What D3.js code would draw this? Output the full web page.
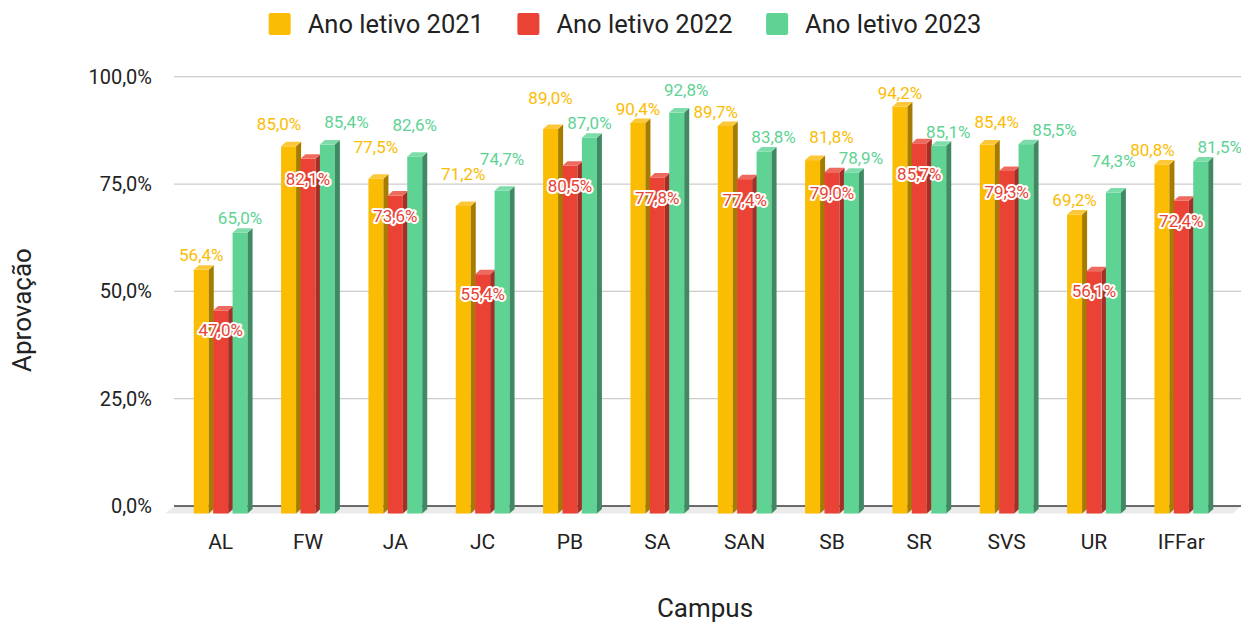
<!DOCTYPE html>
<html>
<head>
<meta charset="utf-8">
<script src="https://cdn.jsdelivr.net/npm/d3@7"></script>
<style>
  html, body { margin: 0; padding: 0; background: #fff; }
  svg { display: block; font-family: Roboto, "Noto Sans", sans-serif; }
</style>
</head>
<body>
<div id="container"></div>
<script>
// data
var campus = ["AL", "FW", "JA", "JC", "PB", "SA", "SAN", "SB", "SR", "SVS", "UR", "IFFar"];
var ano2021 = [56.4, 85.0, 77.5, 71.2, 89.0, 90.4, 89.7, 81.8, 94.2, 85.4, 69.2, 80.8];
var ano2022 = [47.0, 82.1, 73.6, 55.4, 80.5, 77.8, 77.4, 79.0, 85.7, 79.3, 56.1, 72.4];
var ano2023 = [65.0, 85.4, 82.6, 74.7, 87.0, 92.8, 83.8, 78.9, 85.1, 85.5, 74.3, 81.5];
var seriesNames = ["Ano letivo 2021", "Ano letivo 2022", "Ano letivo 2023"];
var yTicks = [0, 25, 50, 75, 100];

// label nudges (steps) so the value labels do not collide, like in the original
var lift2021 = [0, 1, 2, 2, 2, 0, 0, 1, 0, 1, 0, 0];
var side2021 = [0, -1, 0, 0, 0, 0, -1, 2, 0, 1, 0, -1];
var lift2022 = [0, 0, 0, 0, 0, 0, 0, 0, 1, 0, 0, 0];
var lift2023 = [0, 1, 2, 2, 0, 1, 0, 0, 0, 0, 2, 0];
var side2023 = [0, 2, 0, 0, 0, 1, 1, 1, 1, 3, 0, 2];

var w = 1241, h = 623;
var svg = d3.select("#container").append("svg")
    .attr("width", w).attr("height", h);

var colors = [
  {front: "#fbbc04", side: "#a67c00", top: "#fcc83a", label: "#fbbc04"},
  {front: "#ea4335", side: "#a42f26", top: "#ee6a5e", label: "#ea4335"},
  {front: "#5ed394", side: "#3f8a62", top: "#7edcab", label: "#5ed394"}
];

// x band per campus, y scale on the back wall, yF on the front plane
var x = d3.scaleBand().domain(campus).range([177, 1225]);
var y = d3.scaleLinear().domain([0, 100]).range([506, 76.7]);
var yF = d3.scaleLinear().domain([0, 100]).range([513.5, 81.5]);

var barW = 15, pitch = 19.4, depX = 5, depY = -4.5;

//gridlines
svg.append("g").selectAll("line")
  .data(yTicks.filter(function(d) { return d > 0; }))
  .enter().append("line")
    .attr("x1", 174).attr("x2", w)
    .attr("y1", function(d) { return y(d); })
    .attr("y2", function(d) { return y(d); })
    .attr("stroke", "#cccccc").attr("stroke-width", 1.3);

//floor
var xl = x.range()[0], xr = x.range()[1];
svg.append("path")
  .attr("d", "M" + (xl - 12) + "," + yF(0) + "L" + (xr + 8) + "," + yF(0) +
             "L" + w + "," + y(0) + "L" + (xl - 2) + "," + y(0) + "Z")
  .attr("fill", "#ebebeb");
svg.append("line")
  .attr("x1", xl - 3).attr("x2", w)
  .attr("y1", y(0)).attr("y2", y(0))
  .attr("stroke", "#3c3c3c").attr("stroke-width", 1.6);

//tick labels
svg.append("g").selectAll("text")
  .data(yTicks)
  .enter().append("text")
    .attr("x", 152)
    .attr("y", function(d) { return y(d); })
    .attr("dy", "0.35em")
    .attr("text-anchor", "end")
    .attr("font-size", 20)
    .attr("fill", "#222")
    .text(function(d) { return d.toFixed(1).replace(".", ",") + "%"; });

//bars
var allSeries = [ano2021, ano2022, ano2023];
function cx(i, s) { return x(campus[i]) + x.bandwidth() / 2 + (s - 1) * pitch; }

var bars = svg.append("g");
allSeries.forEach(function(vals, s) {
  var g = bars.append("g").selectAll("g").data(vals).enter().append("g");
  g.append("rect")
    .attr("x", function(d, i) { return cx(i, s) - barW / 2; })
    .attr("y", function(d) { return yF(d); })
    .attr("width", barW)
    .attr("height", function(d) { return yF(0) - yF(d); })
    .attr("fill", colors[s].front);
  g.append("path")
    .attr("d", function(d, i) {
      var r = cx(i, s) + barW / 2;
      return "M" + r + "," + yF(d) + "L" + (r + depX) + "," + (yF(d) + depY) +
             "L" + (r + depX) + "," + (yF(0) + depY) + "L" + r + "," + yF(0) + "Z";
    })
    .attr("fill", colors[s].side);
  g.append("path")
    .attr("d", function(d, i) {
      var l = cx(i, s) - barW / 2, r = l + barW;
      return "M" + l + "," + yF(d) + "L" + (l + depX) + "," + (yF(d) + depY) +
             "L" + (r + depX) + "," + (yF(d) + depY) + "L" + r + "," + yF(d) + "Z";
    })
    .attr("fill", colors[s].top);
});

//value labels
function fmt(v) { return v.toFixed(1).replace(".", ",") + "%"; }
var labels = svg.append("g").attr("font-size", 17);

labels.selectAll("text.l21").data(ano2021).enter().append("text")
  .attr("class", "l21")
  .attr("x", function(d, i) { return cx(i, 0) + 9.5 * side2021[i]; })
  .attr("y", function(d, i) { return y(d) - 9 - 8.5 * lift2021[i]; })
  .attr("dy", "0.35em").attr("text-anchor", "middle")
  .attr("fill", colors[0].label)
  .text(fmt);

labels.selectAll("text.l23").data(ano2023).enter().append("text")
  .attr("class", "l23")
  .attr("x", function(d, i) { return cx(i, 2) + 9.5 * side2023[i]; })
  .attr("y", function(d, i) { return y(d) - 9 - 8.5 * lift2023[i]; })
  .attr("dy", "0.35em").attr("text-anchor", "middle")
  .attr("fill", colors[2].label)
  .text(fmt);

labels.selectAll("text.l22").data(ano2022).enter().append("text")
  .attr("class", "l22")
  .attr("x", function(d, i) { return cx(i, 1); })
  .attr("y", function(d, i) { return y(d) + 26 + 10 * lift2022[i]; })
  .attr("dy", "0.35em").attr("text-anchor", "middle")
  .attr("fill", colors[1].label)
  .attr("stroke", "#fff").attr("stroke-width", 4)
  .attr("stroke-linejoin", "round")
  .attr("paint-order", "stroke")
  .text(fmt);

//category labels
svg.append("g").selectAll("text")
  .data(campus)
  .enter().append("text")
    .attr("x", function(d) { return x(d) + x.bandwidth() / 2; })
    .attr("y", 549)
    .attr("text-anchor", "middle")
    .attr("font-size", 21)
    .attr("fill", "#222")
    .text(function(d) { return d; });

//axis titles
svg.append("text")
  .attr("x", 705).attr("y", 617)
  .attr("text-anchor", "middle")
  .attr("font-size", 26)
  .attr("fill", "#222")
  .text("Campus");
svg.append("text")
  .attr("transform", "translate(31,310) rotate(-90)")
  .attr("text-anchor", "middle")
  .attr("font-size", 26)
  .attr("fill", "#222")
  .text("Aprovação");

//legend
var leg = svg.append("g");
var lx = 0;
seriesNames.forEach(function(name, s) {
  var item = leg.append("g").attr("transform", "translate(" + lx + ",0)");
  item.append("rect")
    .attr("x", 0).attr("y", 13).attr("width", 22).attr("height", 22)
    .attr("rx", 2).attr("fill", colors[s].front);
  var t = item.append("text")
    .attr("x", 39).attr("y", 24).attr("dy", "0.35em")
    .attr("font-size", 25.5).attr("fill", "#222")
    .text(name);
  lx += 39 + t.node().getComputedTextLength() + 33.5;
});
var legW = lx - 33.5;
leg.attr("transform", "translate(" + (625 - legW / 2) + ",0)");
</script>
</body>
</html>
